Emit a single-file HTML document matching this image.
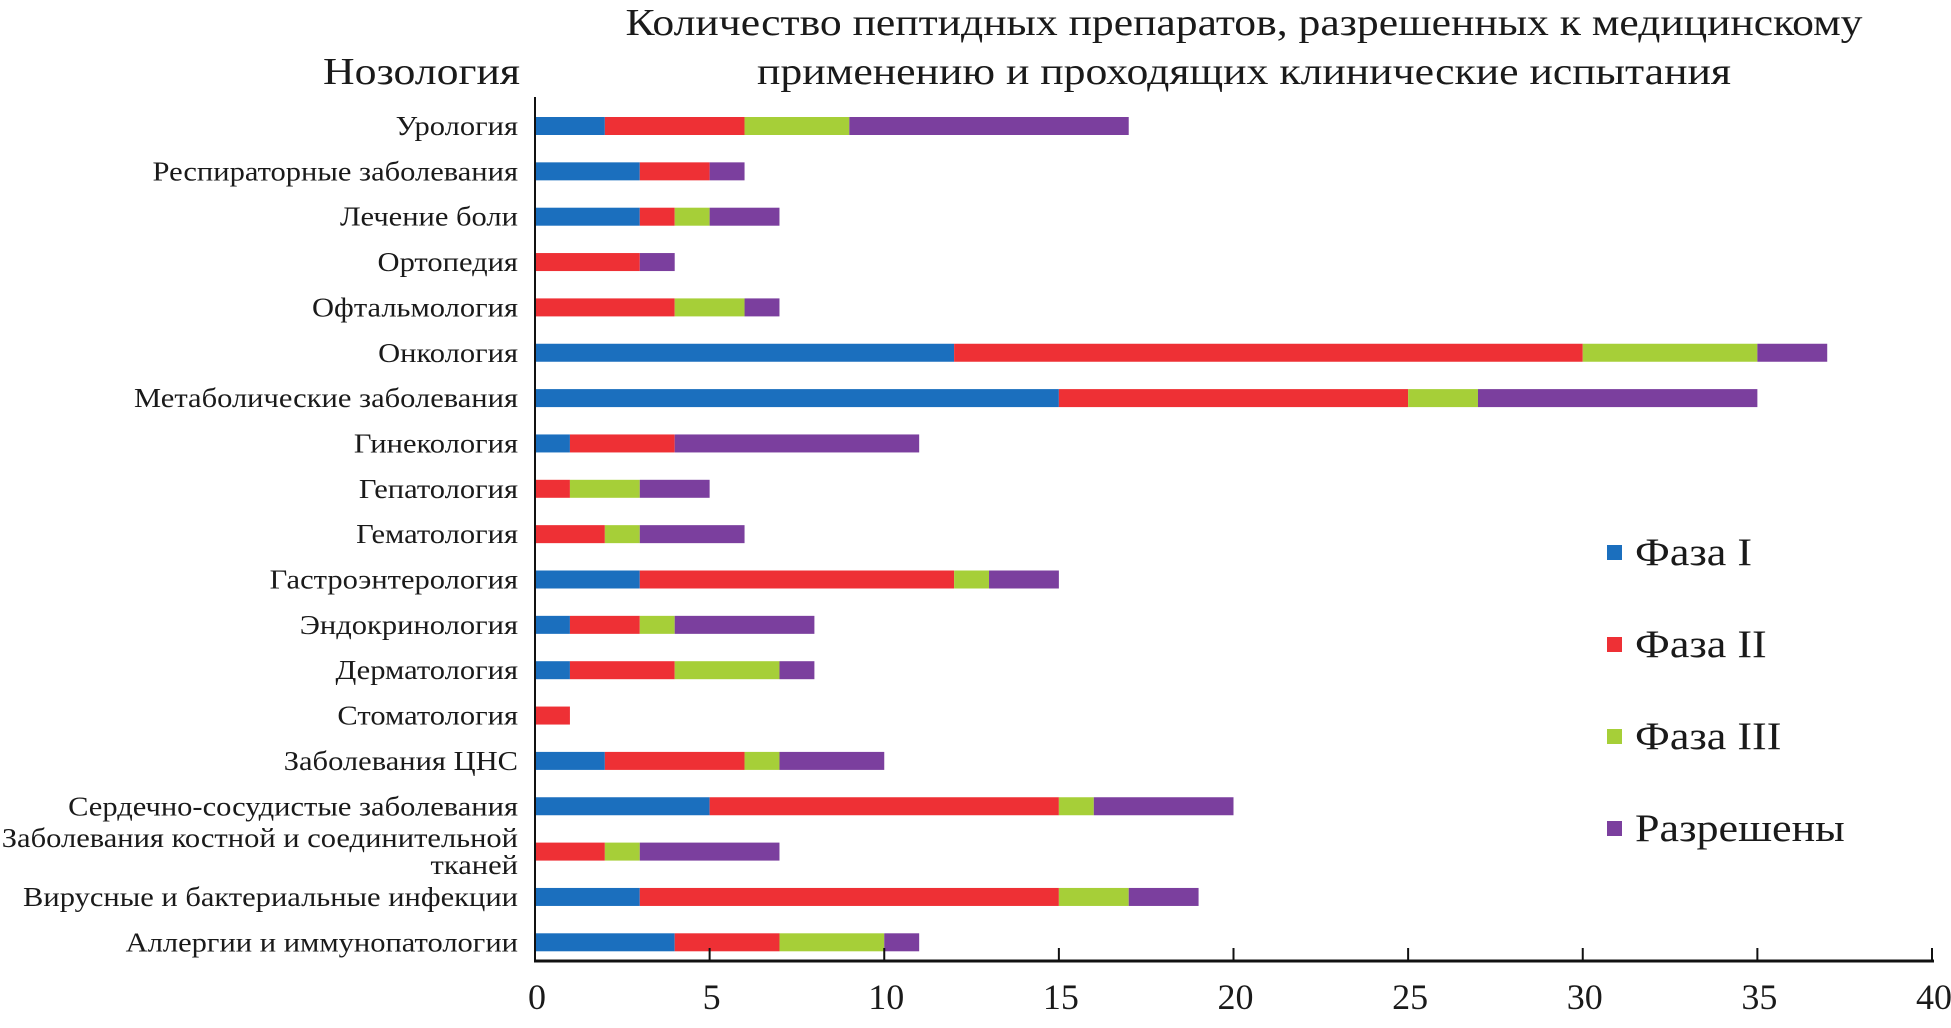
<!DOCTYPE html>
<html><head><meta charset="utf-8"><style>
html,body{margin:0;padding:0;background:#fff;}
svg text{font-family:"Liberation Serif",serif;fill:#1a1a1a;}
</style></head><body>
<svg id="chart" width="1951" height="1023" viewBox="0 0 1951 1023" xmlns="http://www.w3.org/2000/svg">
<text x="1244" y="35" font-size="38" text-anchor="middle" textLength="1237" lengthAdjust="spacingAndGlyphs">Количество пептидных препаратов, разрешенных к медицинскому</text>
<text x="1244" y="84" font-size="38" text-anchor="middle" textLength="974" lengthAdjust="spacingAndGlyphs">применению и проходящих клинические испытания</text>
<text x="520" y="84" font-size="38" text-anchor="end" textLength="197" lengthAdjust="spacingAndGlyphs">Нозология</text>
<g id="bars"></g>
<g id="axes"></g>
<g id="legend"></g>
</svg>
<script>
const categories = ["Урология","Респираторные заболевания","Лечение боли","Ортопедия","Офтальмология","Онкология","Метаболические заболевания","Гинекология","Гепатология","Гематология","Гастроэнтерология","Эндокринология","Дерматология","Стоматология","Заболевания ЦНС","Сердечно-сосудистые заболевания","Заболевания костной и соединительной|тканей","Вирусные и бактериальные инфекции","Аллергии и иммунопатологии"];
const phase1 = [2,3,3,0,0,12,15,1,0,0,3,1,1,0,2,5,0,3,4];
const phase2 = [4,2,1,3,4,18,10,3,1,2,9,2,3,1,4,10,2,12,3];
const phase3 = [3,0,1,0,2,5,2,0,2,1,1,1,3,0,1,1,1,2,3];
const approved = [8,1,2,1,1,2,8,7,2,3,2,4,1,0,3,4,4,2,1];
const seriesNames = ["Фаза I","Фаза II","Фаза III","Разрешены"];
const xTicks = [0,5,10,15,20,25,30,35,40];
const colors = ["#1b6fbe","#ee3035","#a6cf38","#7b3f9e"];
const NS="http://www.w3.org/2000/svg";
const x0=535,x1=1932,xMax=40,axisY=961,rowTop=126,rowStep=45.35,barH=18;
const xs=v=>x0+(x1-x0)*v/xMax;
const ys=i=>rowTop+i*rowStep;
function mk(tag,attrs,parent){const e=document.createElementNS(NS,tag);for(const k in attrs)e.setAttribute(k,attrs[k]);parent.appendChild(e);return e;}
const bars=document.getElementById('bars'),axes=document.getElementById('axes'),legend=document.getElementById('legend');
const series=[phase1,phase2,phase3,approved];
categories.forEach((c,i)=>{
  const cy=ys(i);
  const lines=c.split('|');
  lines.forEach((ln,j)=>{
    const t=mk('text',{x:518,y:cy+9+(j-(lines.length-1)/2)*27,'font-size':27,'text-anchor':'end'},axes);
    
    
    t.textContent=ln;
    const w=t.getComputedTextLength();
    if(w>0){t.setAttribute('textLength',w*1.13);t.setAttribute('lengthAdjust','spacingAndGlyphs');}
  });
  let acc=0;
  series.forEach((s,k)=>{
    const v=s[i];
    if(v>0){
      const r=mk('rect',{x:xs(acc),y:cy-barH/2,width:xs(acc+v)-xs(acc),height:barH,fill:colors[k]},bars);
      
      
    }
    acc+=v;
  });
});
const yl=mk('line',{x1:535,y1:97,x2:535,y2:axisY,stroke:'#111','stroke-width':2},axes);


const xl=mk('line',{x1:534,y1:axisY,x2:1934,y2:axisY,stroke:'#111','stroke-width':3},axes);


xTicks.forEach(v=>{
  const tk=mk('line',{x1:xs(v),y1:948,x2:xs(v),y2:axisY,stroke:'#111','stroke-width':2},axes);
  
  
  const t=mk('text',{x:xs(v)+2,y:1009,'font-size':36,'text-anchor':'middle'},axes);
  
  
  t.textContent=v;
});
seriesNames.forEach((n,k)=>{
  const cy=552+k*92;
  const r=mk('rect',{x:1607,y:cy-7,width:15,height:15,fill:colors[k]},legend);
  
  
  const t=mk('text',{x:1635,y:cy+13,'font-size':39},legend);
  
  
  t.textContent=n;
  const w=t.getComputedTextLength();
  if(w>0){t.setAttribute('textLength',w*1.13);t.setAttribute('lengthAdjust','spacingAndGlyphs');}
});
</script>
</body></html>
